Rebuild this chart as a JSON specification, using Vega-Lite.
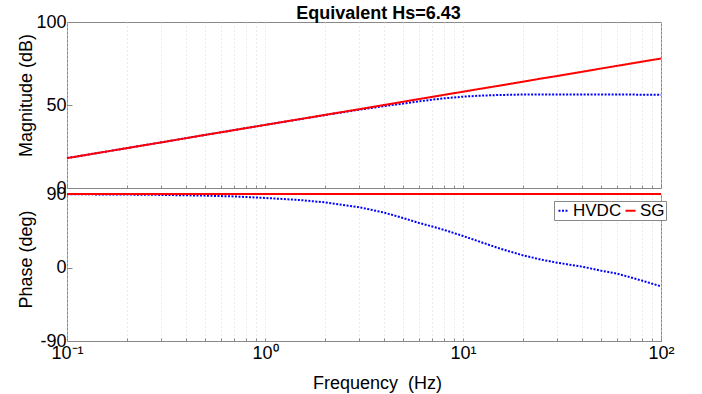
{
  "$schema": "https://vega.github.io/schema/vega-lite/v6.json",
  "autosize": "none",
  "padding": {"left": 67, "top": 22, "right": 635, "bottom": 372},
  "background": "white",
  "config": {
    "font": "Liberation Sans",
    "view": {"stroke": "#888888", "strokeWidth": 1},
    "axis": {"labelColor": "black", "titleColor": "black", "labelFont": "Liberation Sans", "titleFont": "Liberation Sans", "titleFontWeight": "normal", "labelFontSize": 18, "titleFontSize": 18, "tickColor": "#888888"}
  },
  "title": {"text": "Equivalent Hs=6.43", "fontSize": 18, "fontWeight": "bold", "color": "black", "anchor": "middle", "baseline": "alphabetic", "offset": 4, "dx": 33, "dy": 28},
  "data": {"values": [
    {"f": 0.1, "series": "HVDC", "mag": 18.0, "phase": 89.7},
    {"f": 0.15, "series": "HVDC", "mag": 21.5, "phase": 89.5},
    {"f": 0.2, "series": "HVDC", "mag": 24.0, "phase": 89.3},
    {"f": 0.3, "series": "HVDC", "mag": 27.5, "phase": 88.9},
    {"f": 0.5, "series": "HVDC", "mag": 32.0, "phase": 88.0},
    {"f": 0.7, "series": "HVDC", "mag": 34.9, "phase": 87.0},
    {"f": 1, "series": "HVDC", "mag": 38.0, "phase": 85.2},
    {"f": 1.5, "series": "HVDC", "mag": 41.4, "phase": 82.6},
    {"f": 2, "series": "HVDC", "mag": 43.9, "phase": 79.8},
    {"f": 3, "series": "HVDC", "mag": 47.2, "phase": 73.8},
    {"f": 4, "series": "HVDC", "mag": 49.3, "phase": 67.2},
    {"f": 5, "series": "HVDC", "mag": 50.9, "phase": 60.5},
    {"f": 6, "series": "HVDC", "mag": 52.2, "phase": 54.5},
    {"f": 7, "series": "HVDC", "mag": 53.2, "phase": 50.2},
    {"f": 8, "series": "HVDC", "mag": 54.0, "phase": 46.2},
    {"f": 10, "series": "HVDC", "mag": 55.0, "phase": 38.6},
    {"f": 12, "series": "HVDC", "mag": 55.6, "phase": 32.0},
    {"f": 15, "series": "HVDC", "mag": 56.0, "phase": 24.0},
    {"f": 20, "series": "HVDC", "mag": 56.3, "phase": 15.0},
    {"f": 25, "series": "HVDC", "mag": 56.4, "phase": 9.5},
    {"f": 30, "series": "HVDC", "mag": 56.4, "phase": 5.8},
    {"f": 40, "series": "HVDC", "mag": 56.4, "phase": 1.0},
    {"f": 50, "series": "HVDC", "mag": 56.4, "phase": -4.0},
    {"f": 60, "series": "HVDC", "mag": 56.3, "phase": -7.5},
    {"f": 70, "series": "HVDC", "mag": 56.3, "phase": -12.0},
    {"f": 80, "series": "HVDC", "mag": 56.2, "phase": -16.0},
    {"f": 100, "series": "HVDC", "mag": 56.1, "phase": -23.0},
    {"f": 0.1, "series": "SG", "mag": 18.0, "phase": 90},
    {"f": 0.15, "series": "SG", "mag": 21.5, "phase": 90},
    {"f": 0.2, "series": "SG", "mag": 24.0, "phase": 90},
    {"f": 0.3, "series": "SG", "mag": 27.5, "phase": 90},
    {"f": 0.5, "series": "SG", "mag": 32.0, "phase": 90},
    {"f": 0.7, "series": "SG", "mag": 34.9, "phase": 90},
    {"f": 1, "series": "SG", "mag": 38.0, "phase": 90},
    {"f": 1.5, "series": "SG", "mag": 41.5, "phase": 90},
    {"f": 2, "series": "SG", "mag": 44.0, "phase": 90},
    {"f": 3, "series": "SG", "mag": 47.5, "phase": 90},
    {"f": 4, "series": "SG", "mag": 50.0, "phase": 90},
    {"f": 5, "series": "SG", "mag": 52.0, "phase": 90},
    {"f": 6, "series": "SG", "mag": 53.6, "phase": 90},
    {"f": 7, "series": "SG", "mag": 54.9, "phase": 90},
    {"f": 8, "series": "SG", "mag": 56.1, "phase": 90},
    {"f": 10, "series": "SG", "mag": 58.0, "phase": 90},
    {"f": 12, "series": "SG", "mag": 59.6, "phase": 90},
    {"f": 15, "series": "SG", "mag": 61.5, "phase": 90},
    {"f": 20, "series": "SG", "mag": 64.0, "phase": 90},
    {"f": 25, "series": "SG", "mag": 66.0, "phase": 90},
    {"f": 30, "series": "SG", "mag": 67.5, "phase": 90},
    {"f": 40, "series": "SG", "mag": 70.0, "phase": 90},
    {"f": 50, "series": "SG", "mag": 72.0, "phase": 90},
    {"f": 60, "series": "SG", "mag": 73.6, "phase": 90},
    {"f": 70, "series": "SG", "mag": 74.9, "phase": 90},
    {"f": 80, "series": "SG", "mag": 76.1, "phase": 90},
    {"f": 100, "series": "SG", "mag": 78.0, "phase": 90}
  ]},
  "bounds": "flush",
  "spacing": 6,
  "resolve": {"scale": {"color": "independent", "strokeDash": "independent"}},
  "vconcat": [
    {
      "width": 594,
      "height": 166,
      "mark": {"type": "line", "strokeWidth": 2, "clip": false},
      "encoding": {
        "x": {"field": "f", "type": "quantitative", "scale": {"type": "log", "domain": [0.1, 100], "nice": false},
          "axis": {"title": null, "labels": false, "ticks": true, "tickSize": -3, "domain": false, "grid": true, "gridColor": "#d4d4d4", "gridDash": [1, 3], "gridWidth": 1,
            "values": [0.1,0.2,0.3,0.4,0.5,0.6,0.7,0.8,0.9,1,2,3,4,5,6,7,8,9,10,20,30,40,50,60,70,80,90,100]}},
        "y": {"field": "mag", "type": "quantitative", "scale": {"domain": [0, 100], "nice": false},
          "axis": {"title": "Magnitude (dB)", "values": [0, 50, 100], "grid": false, "ticks": true, "tickSize": -5, "domain": false, "labelPadding": 6, "labelBaseline": "middle",
            "titleX": -41, "titleY": 73, "titleAngle": -90, "titleBaseline": "middle", "titleAlign": "center"}},
        "color": {"field": "series", "type": "nominal", "scale": {"domain": ["HVDC", "SG"], "range": ["#0000ff", "#ff0000"]}, "legend": null},
        "strokeDash": {"field": "series", "type": "nominal", "scale": {"domain": ["HVDC", "SG"], "range": [[2, 1.5], [1, 0]]}, "legend": null}
      }
    },
    {
      "width": 594,
      "height": 147,
      "mark": {"type": "line", "strokeWidth": 2, "clip": false},
      "encoding": {
        "x": {"field": "f", "type": "quantitative", "scale": {"type": "log", "domain": [0.1, 100], "nice": false},
          "axis": {"title": "Frequency\u00a0 (Hz)", "ticks": true, "tickSize": -3, "domain": false, "grid": true, "gridColor": "#d4d4d4", "gridDash": [1, 3], "gridWidth": 1,
            "labelOverlap": false, "labelFlush": false, "labelPadding": 6,
            "labelExpr": "datum.value == 0.1 ? '10⁻¹' : datum.value == 1 ? '10⁰' : datum.value == 10 ? '10¹' : datum.value == 100 ? '10²' : ''",
            "values": [0.1,0.2,0.3,0.4,0.5,0.6,0.7,0.8,0.9,1,2,3,4,5,6,7,8,9,10,20,30,40,50,60,70,80,90,100],
            "titleX": 310, "titleY": 47, "titleBaseline": "alphabetic", "titleAlign": "center"}},
        "y": {"field": "phase", "type": "quantitative", "scale": {"domain": [-90, 90], "nice": false},
          "axis": {"title": "Phase (deg)", "values": [-90, 0, 90], "grid": false, "ticks": true, "tickSize": -5, "domain": false, "labelPadding": 6, "labelBaseline": "middle",
            "labelExpr": "datum.value < 0 ? '-' + abs(datum.value) : '' + datum.value",
            "titleX": -41, "titleY": 65, "titleAngle": -90, "titleBaseline": "middle", "titleAlign": "center"}},
        "color": {"field": "series", "type": "nominal", "scale": {"domain": ["HVDC", "SG"], "range": ["#0000ff", "#ff0000"]},
          "legend": {"title": null, "orient": "none", "legendX": 487, "legendY": 7, "direction": "horizontal", "fillColor": "white", "strokeColor": "#888888",
            "padding": 1, "columnPadding": -6, "labelFontSize": 17, "labelColor": "black", "labelOffset": 1, "symbolType": "stroke", "symbolSize": 100, "symbolStrokeWidth": 2}},
        "strokeDash": {"field": "series", "type": "nominal", "scale": {"domain": ["HVDC", "SG"], "range": [[2, 1.5], [1, 0]]},
          "legend": {"title": null, "orient": "none", "legendX": 487, "legendY": 7, "direction": "horizontal", "fillColor": "white", "strokeColor": "#888888",
            "padding": 1, "columnPadding": -6, "labelFontSize": 17, "labelColor": "black", "labelOffset": 1, "symbolType": "stroke", "symbolSize": 100, "symbolStrokeWidth": 2}}
      }
    }
  ]
}
